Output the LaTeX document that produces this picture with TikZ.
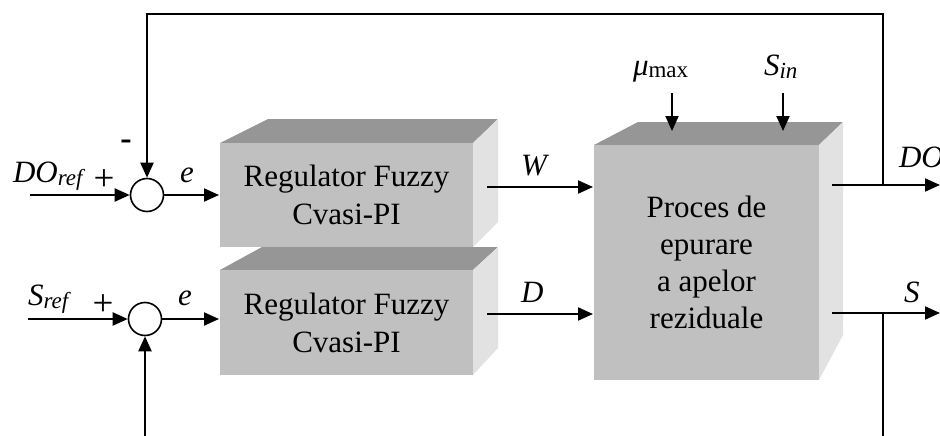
\documentclass[tikz,border=0pt]{standalone}
\usepackage{fontspec}
\setmainfont{Liberation Serif}
\usetikzlibrary{arrows.meta}
\definecolor{frontgray}{RGB}{192,192,192}
\definecolor{topgray}{RGB}{150,150,150}
\definecolor{sidegray}{RGB}{226,226,226}
\newcommand{\mysub}[2][4pt]{\raisebox{-#1}{\fontsize{23}{23}\selectfont #2}}
\begin{document}
\begin{tikzpicture}[x=1pt,y=-1pt,line width=2pt,
  arr/.style={-{Triangle[length=15pt,width=13pt]}},
  frontface/.style={fill=frontgray,draw=none,inner sep=0pt,align=center,
    font=\fontsize{31}{38}\selectfont},
  topface/.style={fill=topgray,draw=none},
  sideface/.style={fill=sidegray,draw=none},
  sumnode/.style={circle,draw,fill=white,line width=1.6pt,minimum size=33pt,inner sep=0pt},
  lbl/.style={font=\fontsize{31}{37}\selectfont,inner sep=0pt},
  signlbl/.style={font=\fontsize{37}{40}\selectfont,inner sep=0pt}]
\useasboundingbox (0,0) rectangle (940,436);
\clip (0,0) rectangle (940,436);

% upper regulator
\fill[topface] (220,143) -- (268,119) -- (498,119) -- (473,143) -- cycle;
\fill[sideface] (473,143) -- (498,119) -- (498,222) -- (473,247) -- cycle;
\node[frontface,minimum width=253pt,minimum height=104pt] (reg1) at (346.5,195)
  {Regulator Fuzzy\\Cvasi-PI};

% lower regulator
\fill[topface] (220,270) -- (262,247) -- (498,247) -- (473,270) -- cycle;
\fill[sideface] (473,270) -- (498,247) -- (498,348) -- (473,375) -- cycle;
\node[frontface,minimum width=253pt,minimum height=105pt] (reg2) at (346.5,322.5)
  {Regulator Fuzzy\\Cvasi-PI};

% process
\fill[topface] (594,145) -- (638,122) -- (843,122) -- (819,145) -- cycle;
\fill[sideface] (819,145) -- (843,122) -- (843,335) -- (819,380) -- cycle;
\node[frontface,minimum width=225pt,minimum height=235pt,font=\fontsize{31}{37}\selectfont] (proc) at (706.5,262.5)
  {Proces de\\epurare\\a apelor\\reziduale};

% summing junctions
\node[sumnode] (sum1) at (147,195) {};
\node[sumnode] (sum2) at (145,319) {};

% coordinates
\coordinate (in1) at (30,195);
\coordinate (in2) at (28,319);
\coordinate (w0) at (487,187);
\coordinate (d0) at (487,314);
\coordinate (do0) at (832,185);
\coordinate (do1) at (940,185);
\coordinate (s0) at (832,313);
\coordinate (s1) at (940,313);
\coordinate (fb1) at (883,185);
\coordinate (fb1top) at (883,14);
\coordinate (fb1left) at (147,14);
\coordinate (fb2) at (883,313);
\coordinate (fb2bot) at (883,437);
\coordinate (fb2left) at (145,437);
\coordinate (mu0) at (672,93);
\coordinate (mu1) at (672,131);
\coordinate (si0) at (783,93);
\coordinate (si1) at (783,131);

% connectors
\draw[arr] (in1) -- (sum1.west);
\draw[arr] (sum1.east) -- (sum1.east -| reg1.west);
\draw[arr] (in2) -- (sum2.west);
\draw[arr] (sum2.east) -- (sum2.east -| reg2.west);
\draw[arr] (w0) -- (w0 -| proc.west);
\draw[arr] (d0) -- (d0 -| proc.west);
\draw[arr] (do0) -- (do1);
\draw[arr] (s0) -- (s1);
\draw[arr] (fb1) -- (fb1top) -- (fb1left) -- (sum1.north);
\draw[arr] (fb2) -- (fb2bot) -- (fb2left) -- (sum2.south);
\draw[arr] (mu0) -- (mu1);
\draw[arr] (si0) -- (si1);

% labels
\node[lbl,anchor=base west] (ldoref) at (12,182) {\textit{DO}\mysub[3pt]{\textit{ref}}};
\node[signlbl] (lplus1) at (104,180) {+};
\node[signlbl,font=\fontsize{34}{37}\selectfont\bfseries] (lminus) at (126,145) {-};
\node[lbl,anchor=base west] (le1) at (179,182) {\textit{e}};
\node[lbl,anchor=base west] (lsref) at (27,305) {\textit{S}\mysub[3pt]{\textit{ref}}};
\node[signlbl] (lplus2) at (103,305) {+};
\node[lbl,anchor=base west] (le2) at (177,305) {\textit{e}};
\node[lbl,anchor=base west] (lw) at (520,175) {\textit{W}};
\node[lbl,anchor=base west] (ld) at (520,302) {\textit{D}};
\node[lbl,anchor=base west] (lmu) at (632,75) {\textit{μ}\mysub[2pt]{max}};
\node[lbl,anchor=base west] (lsin) at (763,75) {\textit{S}\mysub{\textit{in}}};
\node[lbl,anchor=base west] (ldo) at (898,167) {\textit{DO}};
\node[lbl,anchor=base west] (ls) at (903,302) {\textit{S}};
\end{tikzpicture}
\end{document}
